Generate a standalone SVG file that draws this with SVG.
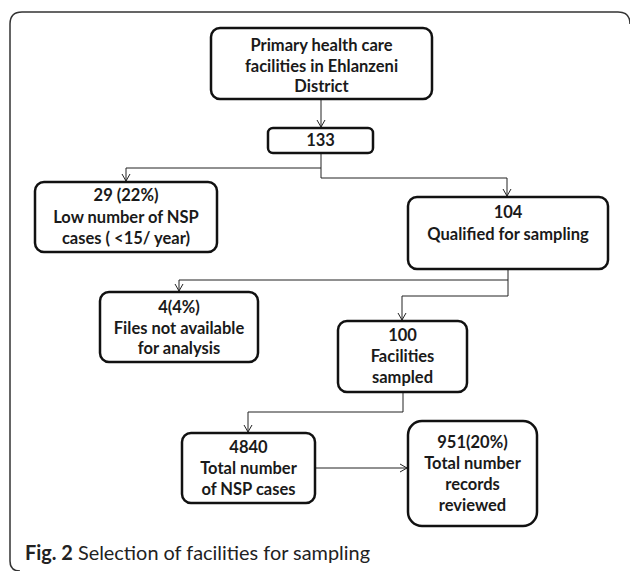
<svg xmlns="http://www.w3.org/2000/svg" width="630" height="571" viewBox="0 0 630 571">
<defs>
<marker id="arr" markerWidth="12" markerHeight="12" refX="8" refY="6" orient="auto" markerUnits="userSpaceOnUse">
<path d="M1,2 L8,6 L1,10" fill="none" stroke="#222" stroke-width="1"/>
</marker>
<style>
.box{fill:#fff;stroke:#111;stroke-width:2.5}
.t{font-family:Lato,"Liberation Sans",sans-serif;font-weight:bold;font-size:16.5px;fill:#1a1a1a;text-anchor:middle}
.c{fill:none;stroke:#222;stroke-width:1}
.cap{font-family:Lato,"Open Sans",sans-serif;font-size:20px;fill:#222}
</style>
</defs>
<rect width="630" height="571" fill="#fff"/>
<path d="M20,571 Q10,571 10,561 V24 Q10,12 22,12 H618 Q630,12 630,24" fill="none" stroke="#333" stroke-width="1.5"/>
<g id="connectors">
<path class="c" d="M321,99 V127" marker-end="url(#arr)"/>
<path class="c" d="M321,153 V168 H126 V181" marker-end="url(#arr)"/>
<path class="c" d="M321,168 V178 H507 V196" marker-end="url(#arr)"/>
<path class="c" d="M508,269 V280 H179 V291" marker-end="url(#arr)"/>
<path class="c" d="M508,280 V296 H402 V320" marker-end="url(#arr)"/>
<path class="c" d="M403,392 V412 H248 V432" marker-end="url(#arr)"/>
<path class="c" d="M315,468 H407" marker-end="url(#arr)"/>
</g>
<g id="n1"><rect class="box" x="211" y="28" width="221" height="71" rx="9"/>
<text class="t" x="321.5" y="51">Primary health care</text>
<text class="t" x="321.5" y="72">facilities in Ehlanzeni</text>
<text class="t" x="321.5" y="92">District</text></g>
<g id="n133"><rect class="box" x="268" y="128" width="105" height="25" rx="5"/>
<text class="t" x="320.5" y="146">133</text></g>
<g id="n29"><rect class="box" x="35" y="182" width="182" height="70" rx="9"/>
<text class="t" x="126" y="201">29 (22%)</text>
<text class="t" x="126" y="223">Low number of NSP</text>
<text class="t" x="126" y="244">cases ( &lt;15/ year)</text></g>
<g id="n104"><rect class="box" x="408" y="197" width="200" height="72" rx="9"/>
<text class="t" x="508" y="218">104</text>
<text class="t" x="508" y="240">Qualified for sampling</text></g>
<g id="n4"><rect class="box" x="100" y="292" width="158" height="70" rx="9"/>
<text class="t" x="179" y="313">4(4%)</text>
<text class="t" x="179" y="334">Files not available</text>
<text class="t" x="179" y="354">for analysis</text></g>
<g id="n100"><rect class="box" x="338" y="321" width="129" height="71" rx="9"/>
<text class="t" x="402.5" y="341">100</text>
<text class="t" x="402.5" y="362">Facilities</text>
<text class="t" x="402.5" y="383">sampled</text></g>
<g id="n4840"><rect class="box" x="182" y="433" width="133" height="70" rx="9"/>
<text class="t" x="248.5" y="453">4840</text>
<text class="t" x="248.5" y="474">Total number</text>
<text class="t" x="248.5" y="495">of NSP cases</text></g>
<g id="n951"><rect class="box" x="408" y="421" width="129" height="105" rx="14"/>
<text class="t" x="472.5" y="448">951(20%)</text>
<text class="t" x="472.5" y="469">Total number</text>
<text class="t" x="472.5" y="490">records</text>
<text class="t" x="472.5" y="511">reviewed</text></g>
<text class="cap" x="25" y="560" textLength="345" lengthAdjust="spacingAndGlyphs"><tspan font-weight="bold">Fig. 2</tspan> Selection of facilities for sampling</text>
</svg>
